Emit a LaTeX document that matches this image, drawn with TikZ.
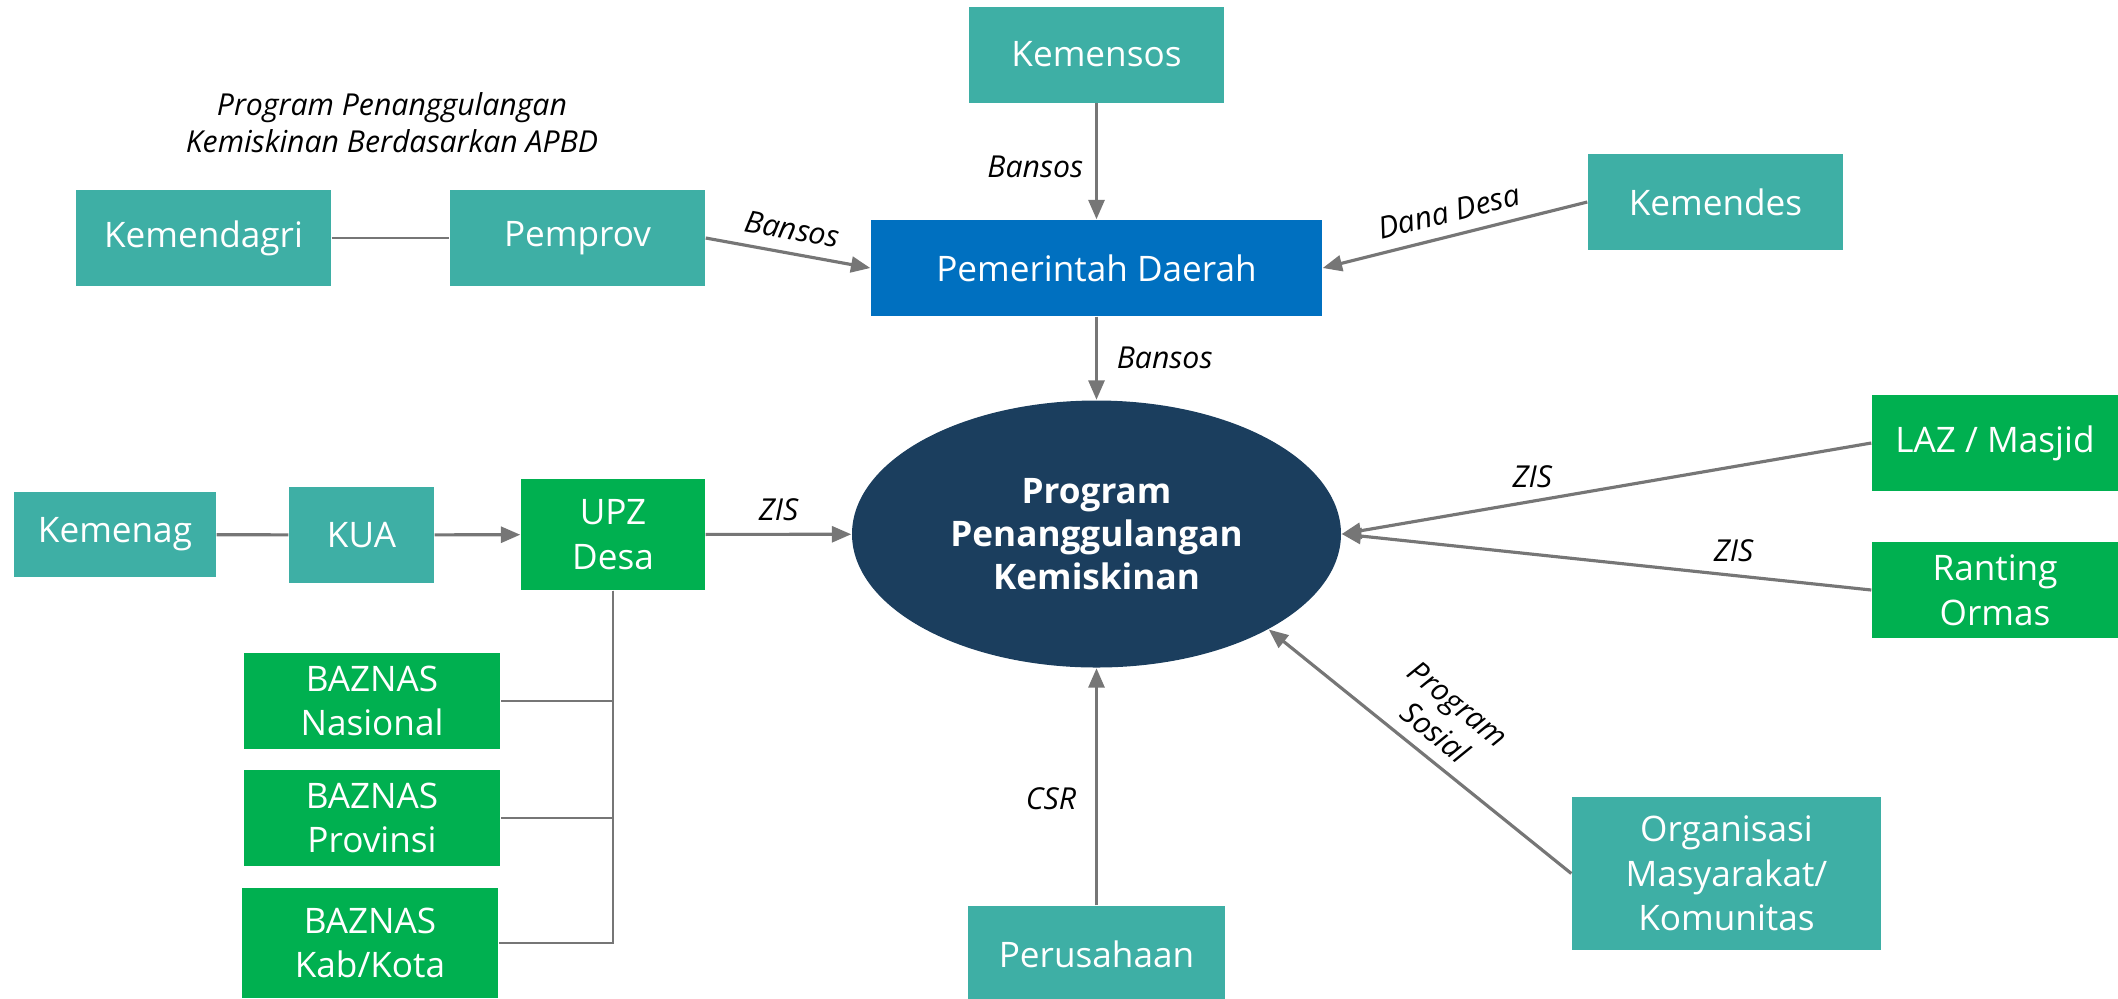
\documentclass[tikz,border=0pt]{standalone}
\usepackage{fontspec}
\setmainfont{Open Sans}
\usepackage{tikz}
\usetikzlibrary{arrows.meta,shapes.geometric}

\definecolor{kteal}{RGB}{62,175,165}
\definecolor{kgreen}{RGB}{0,176,80}
\definecolor{kblue}{RGB}{0,112,192}
\definecolor{knavy}{RGB}{27,62,94}
\definecolor{kline}{RGB}{118,118,118}

\begin{document}
\begin{tikzpicture}[font=\fontsize{10}{12.7}\selectfont]
\useasboundingbox (0,0) rectangle (21.18,-9.98);

\begin{scope}[every node/.style={inner sep=0pt,text=white,align=center,
                                 minimum width=2.55cm,minimum height=0.96cm},
              tealbox/.style={fill=kteal},
              greenbox/.style={fill=kgreen}]
    \node[tealbox] (kemensos)   at (10.965,-0.545) {Kemensos};
    \node[tealbox] (kemendagri) at (2.035,-2.38)   {Kemendagri};
    \node[tealbox] (pemprov)    at (5.775,-2.38)   {Pemprov};
    \node[fill=kblue,minimum width=4.51cm] (pemda) at (10.965,-2.68) {Pemerintah Daerah};
    \node[tealbox] (kemendes)   at (17.155,-2.02)  {Kemendes};
    \node[ellipse,fill=knavy,minimum width=4.89cm,minimum height=2.67cm,
          font=\fontsize{10}{12.2}\selectfont\bfseries] (prog) at (10.965,-5.34)
          {Program\\Penanggulangan\\Kemiskinan};
    \node[tealbox,minimum width=2.02cm,minimum height=0.85cm] (kemenag) at (1.15,-5.345) {Kemenag};
    \node[tealbox,minimum width=1.45cm] (kua) at (3.615,-5.35) {KUA};
    \node[greenbox,minimum width=1.84cm,minimum height=1.11cm] (upz) at (6.13,-5.345) {UPZ\\Desa};
    \node[greenbox,minimum width=2.56cm] (baznasnas)  at (3.72,-7.01) {BAZNAS\\Nasional};
    \node[greenbox,minimum width=2.56cm] (baznasprov) at (3.72,-8.18) {BAZNAS\\Provinsi};
    \node[greenbox,minimum width=2.56cm,minimum height=1.10cm] (baznaskab) at (3.70,-9.43) {BAZNAS\\Kab/Kota};
    \node[greenbox,minimum width=2.46cm] (laz)     at (19.95,-4.43) {LAZ / Masjid};
    \node[greenbox,minimum width=2.46cm] (ranting) at (19.95,-5.90) {Ranting\\Ormas};
    \node[tealbox,minimum width=3.09cm,minimum height=1.53cm] (orgmas) at (17.265,-8.735)
          {Organisasi\\Masyarakat/\\Komunitas};
    \node[tealbox,minimum width=2.57cm] (perusahaan) at (10.965,-9.54) {Perusahaan};
\end{scope}

\node[font=\fontsize{8.6}{10.5}\selectfont\itshape,align=center] (apbd) at (3.92,-1.23)
      {Program Penanggulangan\\Kemiskinan Berdasarkan APBD};

\begin{scope}[every edge/.style={draw=kline,line width=0.6pt}]
    \path (kemendagri) edge (pemprov);
    \path (kemenag) edge[line width=0.9pt] (kua);
\end{scope}
\draw[kline,line width=0.6pt] (upz) |- (baznasnas);
\draw[kline,line width=0.6pt] (upz) |- (baznasprov);
\draw[kline,line width=0.6pt] (upz) |- (baznaskab);

\begin{scope}[>={Triangle[length=5.5pt,width=4.5pt]},
              every node/.style={font=\fontsize{8.6}{10.4}\selectfont\itshape,align=center},
              every edge/.style={draw=kline,line width=0.9pt}]
    \path [->] (kemensos) edge node[left,pos=0.55] {Bansos} (pemda);
    \path [->] (pemprov.east) edge node[above,sloped] {Bansos} (pemda.west);
    \path [->] (kemendes.west) edge node[above,sloped] {Dana Desa} (pemda.east);
    \path [->] (pemda) edge node[right,xshift=2pt] {Bansos} (prog);
    \path [->] (kua) edge (upz);
    \path [->] (upz) edge node[above] {ZIS} (prog);
    \path [->] (laz.west) edge node[above,pos=0.64] {ZIS} (prog.east);
    \path [->] (ranting.west) edge node[above,pos=0.26] {ZIS} (prog.east);
    \path [->] (orgmas.west) edge node[above,sloped] {Program\\Sosial} (prog.-29);
    \path [->] (perusahaan) edge node[left,pos=0.45,xshift=-2pt] {CSR} (prog);
\end{scope}
\end{tikzpicture}
\end{document}
